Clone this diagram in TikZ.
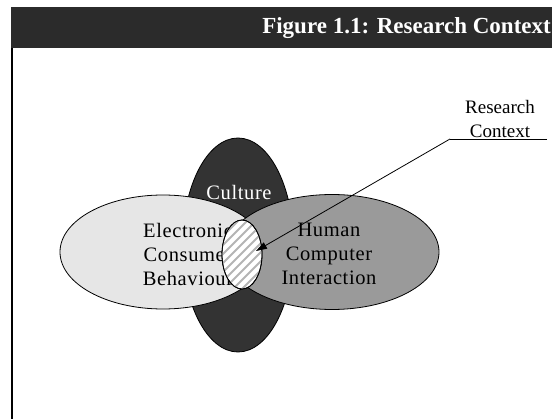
\documentclass[tikz,border=0pt]{standalone}
\usepackage{fontspec}
\setmainfont{Liberation Serif}
\newfontfamily\spacedserif[LetterSpace=3]{Liberation Serif}
\usetikzlibrary{shapes.geometric,arrows.meta}
\definecolor{bandgray}{HTML}{2B2B2B}
\definecolor{culturegray}{HTML}{333333}
\definecolor{ecbgray}{HTML}{E6E6E6}
\definecolor{hcigray}{HTML}{9A9A9A}
\definecolor{hatchgray}{HTML}{B4B4B4}
\tikzset{
  blob/.style={ellipse, draw=black, line width=0.8pt, inner sep=0pt},
  vtext/.style={font=\spacedserif\fontsize{20.5}{24}\selectfont, align=center, inner sep=0pt},
  lbltext/.style={font=\fontsize{19}{23.5}\selectfont, align=center, inner sep=0pt},
  leader/.style={line width=0.8pt, -{Triangle[length=11pt,width=7pt]}},
}
\begin{document}
\begin{tikzpicture}[x=1pt, y=-1pt]
\useasboundingbox (0,0) rectangle (552,419);
% title band and frame edge
\fill[bandgray] (11,7) rectangle (552,48);
\node[anchor=east, text=white, inner sep=0pt,
      font=\fontsize{23}{27}\bfseries\selectfont] (title) at (551,28)
      {Figure 1.1: Research Context};
\draw[line width=2pt] (12,48) -- (12,419);
% the three overlapping fields
\node[blob, fill=culturegray, minimum width=111pt, minimum height=214pt] (culture) at (238,245) {};
\node[blob, fill=ecbgray, minimum width=206pt, minimum height=114pt] (ecb) at (163,252) {};
\node[blob, fill=hcigray, minimum width=214pt, minimum height=115pt] (hci) at (332,252) {};
\node[vtext, text=white] (culturetxt) at (239,192) {Culture};
\node[vtext] (ecbtxt) at (188,254) {Electronic\\Consumer\\Behaviour};
\node[vtext] (hcitxt) at (329,254) {Human\\Computer\\Interaction};
% hatched overlap
\node[blob, fill=white, minimum width=40pt, minimum height=69pt] (core) at (242,254.5) {};
\begin{scope}
  \clip (242,254.5) ellipse [x radius=19.5pt, y radius=34pt];
  \foreach \k in {-63,-54,...,80}
    \draw[hatchgray, line width=1.8pt] (222+\k,300) -- (222+\k+90,210);
\end{scope}
\draw[line width=0.8pt] (core.center) ellipse [x radius=20pt, y radius=34.5pt];
% callout
\node[lbltext] (lbl) at (500,119) {Research\\Context};
\coordinate (ulend) at (547,139);
\coordinate (bend) at (450,139);
\coordinate (tip) at (256,251);
\draw[line width=0.8pt] (ulend) -- (bend);
\draw[leader] (bend) -- (tip);
\end{tikzpicture}
\end{document}
